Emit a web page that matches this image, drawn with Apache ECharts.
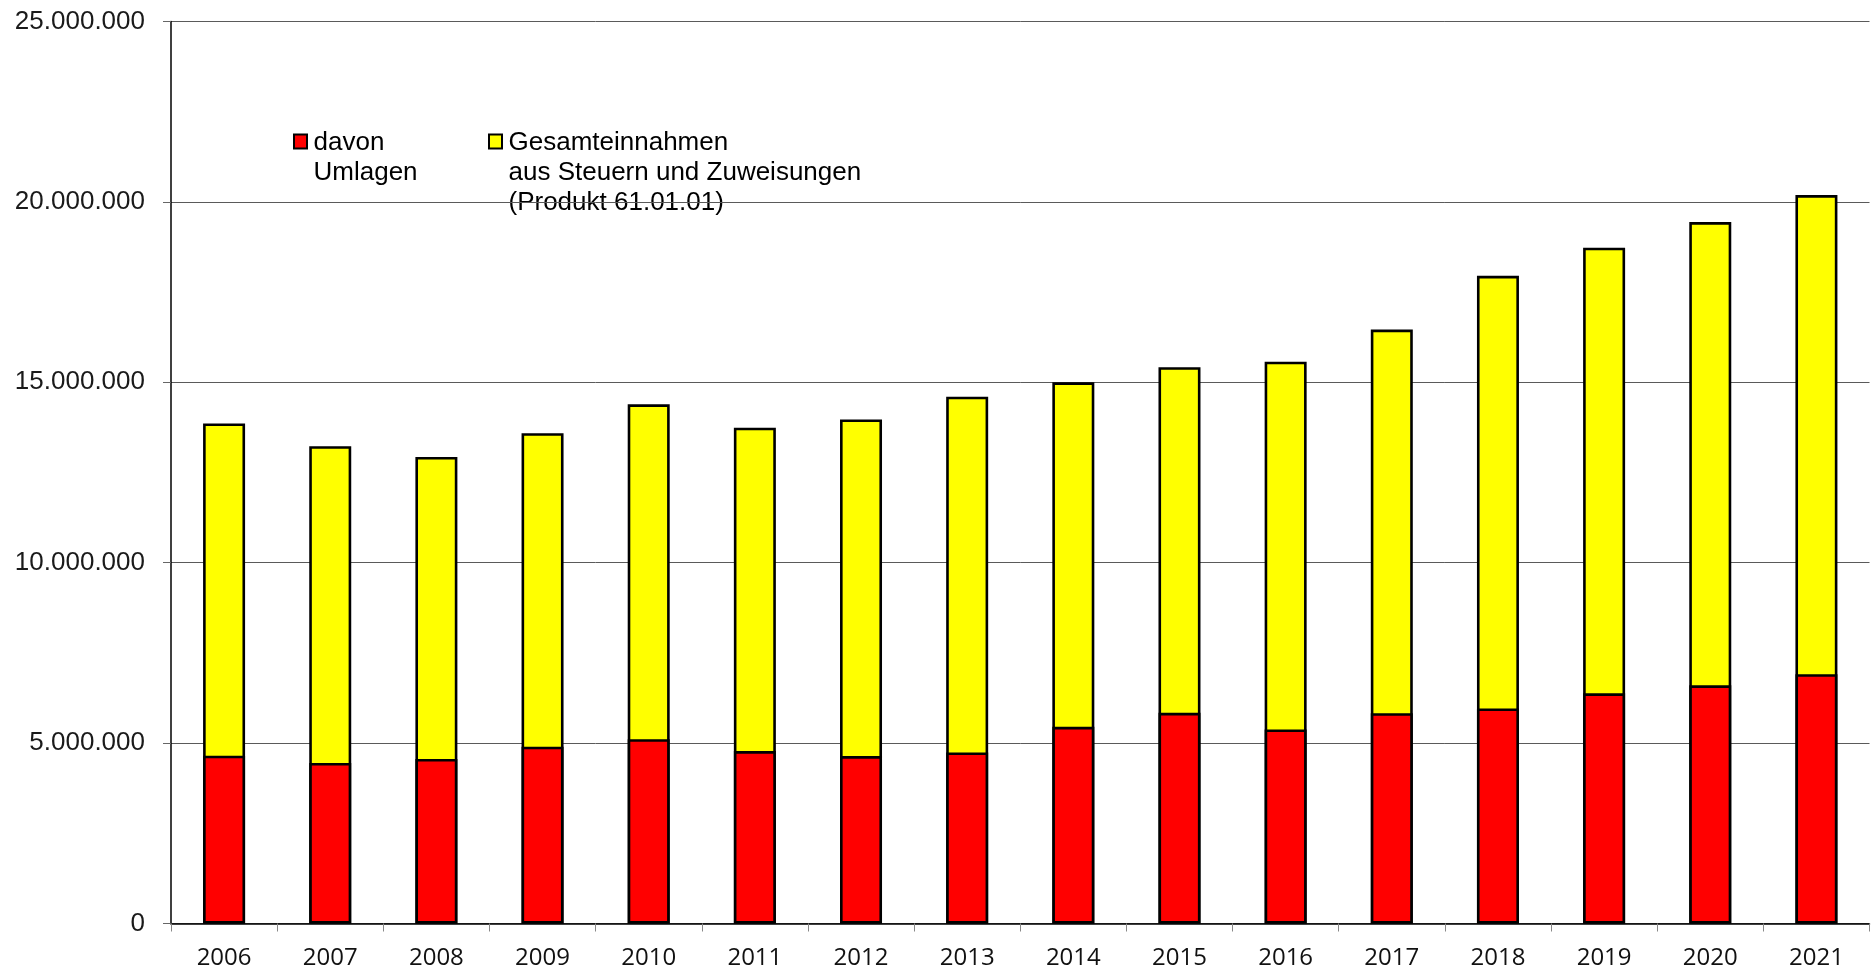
<!DOCTYPE html>
<html>
<head>
<meta charset="utf-8">
<script src="https://cdn.jsdelivr.net/npm/echarts@6/dist/echarts.min.js"></script>
<style>
html,body{margin:0;padding:0;background:#fff;}
#chart{width:1874px;height:972px;}
</style>
</head>
<body>
<div id="chart"></div>
<script>
var years = ['2006','2007','2008','2009','2010','2011','2012','2013','2014','2015','2016','2017','2018','2019','2020','2021'];
// Gesamteinnahmen aus Steuern und Zuweisungen (total)
var gesamt = [13860000,13230000,12930000,13590000,14390000,13740000,13970000,14600000,15000000,15420000,15570000,16460000,17950000,18730000,19440000,20190000];
// davon Umlagen
var umlagen = [4650000,4450000,4560000,4900000,5110000,4780000,4640000,4740000,5450000,5840000,5380000,5830000,5960000,6380000,6600000,6910000];
var yTicks = {min: 0, max: 25000000, interval: 5000000};
var legendRed = 'davon\nUmlagen';
var legendYellow = 'Gesamteinnahmen\naus Steuern und Zuweisungen\n(Produkt 61.01.01)';

function fmt(v){ return String(v).replace(/\B(?=(\d{3})+(?!\d))/g, '.'); }

var chart = echarts.init(document.getElementById('chart'));
chart.setOption({
  animation: false,
  backgroundColor: '#fff',
  grid: {left: 171, right: 4.5, top: 21.5, bottom: 48.5, containLabel: false},
  xAxis: {
    type: 'category',
    data: years,
    boundaryGap: true,
    axisLine: {show: true, lineStyle: {color: '#000', width: 1.5}},
    axisTick: {show: true, inside: false, length: 8, alignWithLabel: false, lineStyle: {color: '#888', width: 1}},
    axisLabel: {color: '#111', fontFamily: 'Open Sans', fontSize: 24, margin: 23}
  },
  yAxis: {
    type: 'value',
    min: yTicks.min, max: yTicks.max, interval: yTicks.interval,
    axisLine: {show: true, lineStyle: {color: '#000', width: 1.5}},
    axisTick: {show: true, inside: false, length: 8, lineStyle: {color: '#666', width: 1}},
    splitLine: {show: true, lineStyle: {color: '#5a5a5a', width: 1}},
    axisLabel: {color: '#1a1a1a', fontFamily: 'Liberation Sans', fontSize: 26, margin: 26, formatter: fmt}
  },
  series: [
    {
      name: 'Gesamteinnahmen',
      type: 'bar',
      data: gesamt,
      barWidth: 42,
      barGap: '-100%',
      itemStyle: {color: '#ffff00', borderColor: '#000', borderWidth: 2.6}
    },
    {
      name: 'Umlagen',
      type: 'bar',
      data: umlagen,
      barWidth: 42,
      barGap: '-100%',
      itemStyle: {color: '#ff0000', borderColor: '#000', borderWidth: 2.6}
    }
  ],
  graphic: [
    {type: 'rect', shape: {x: 294, y: 134.5, width: 13, height: 14}, style: {fill: '#ff0000', stroke: '#000', lineWidth: 2}},
    {type: 'text', style: {x: 313.5, y: 128, text: legendRed, fontFamily: 'Liberation Sans', fontSize: 26, lineHeight: 30, fill: '#000', verticalAlign: 'top', align: 'left'}},
    {type: 'rect', shape: {x: 489, y: 134.5, width: 13, height: 14}, style: {fill: '#ffff00', stroke: '#000', lineWidth: 2}},
    {type: 'text', style: {x: 508.5, y: 128, text: legendYellow, fontFamily: 'Liberation Sans', fontSize: 26, lineHeight: 30, fill: '#000', verticalAlign: 'top', align: 'left'}}
  ]
});
</script>
</body>
</html>
